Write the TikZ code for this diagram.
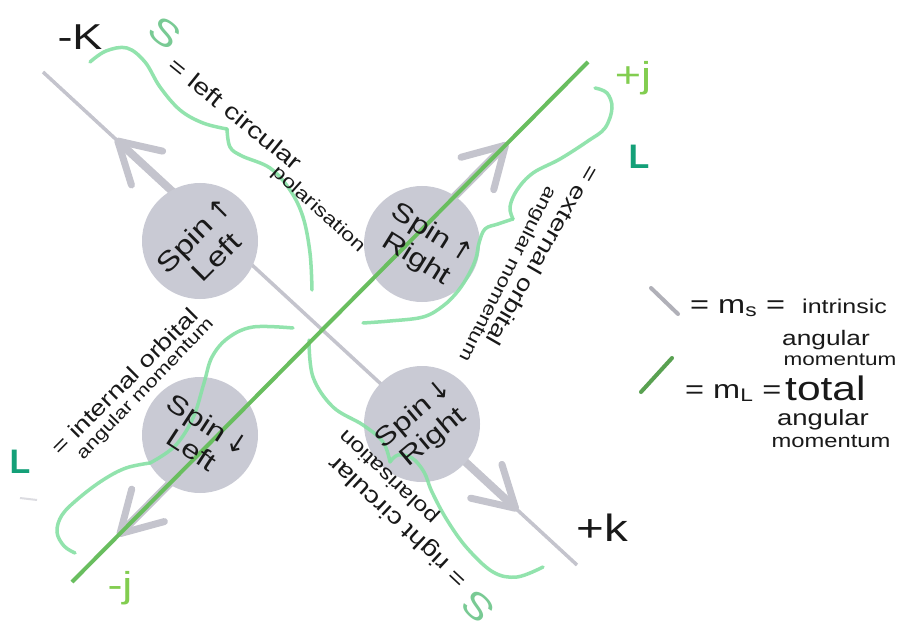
\documentclass[tikz,border=0pt]{standalone}
\usepackage{fontspec}
\setmainfont{Liberation Sans}
\newfontfamily\hand[FakeStretch=1.25]{Liberation Sans}
\newfontfamily\arrfont{DejaVu Sans}
\usetikzlibrary{calc}
\definecolor{ballgray}{RGB}{201,202,212}
\definecolor{axisgray}{RGB}{196,196,205}
\definecolor{jgreen}{RGB}{105,190,95}
\definecolor{bracegreen}{RGB}{135,225,165}
\definecolor{labgreen}{RGB}{130,205,80}
\definecolor{Lteal}{RGB}{20,160,120}
\definecolor{inkblack}{RGB}{25,25,25}
\newcommand\hf[2]{\hand\fontsize{#1}{#2}\selectfont}
\newcommand\upa{{\arrfont ↑}}
\newcommand\dna{{\arrfont ↓}}
\tikzset{
  axisline/.style={draw=axisgray,line width=3.5pt},
  shaft/.style={draw=axisgray,line width=8pt},
  barb/.style={draw=axisgray,line width=7pt,line cap=round,line join=round},
  ball/.style={circle,fill=ballgray,minimum size=116pt,inner sep=0pt},
  bracecurve/.style={draw=bracegreen,line width=3.5pt,line cap=round,opacity=0.9},
  jline/.style={draw=jgreen,line width=4pt},
  handtext/.style={inner sep=0pt,text=inkblack},
  balltext/.style={inner sep=0pt,text=inkblack,align=center},
}
\begin{document}
\begin{tikzpicture}[x=1pt,y=-1pt]
\fill[white] (0,0) rectangle (899,631);
\useasboundingbox (0,0) rectangle (899,631);
% axes
\coordinate (km) at (43,72);
\coordinate (kp) at (577,565);
\coordinate (jm) at (72,582);
\coordinate (jp) at (588,62);
\draw[axisline] (km) -- (kp);
% gray arrows
\coordinate (sA) at ($(km)!0.25!(kp)$);
\coordinate (tA) at ($(km)!0.14!(kp)$);
\coordinate (sB) at ($(km)!0.78!(kp)$);
\coordinate (tB) at ($(km)!0.885!(kp)$);
\coordinate (sC) at ($(jm)!0.73!(jp)$);
\coordinate (tC) at ($(jm)!0.84!(jp)$);
\coordinate (sD) at ($(jm)!0.22!(jp)$);
\coordinate (tD) at ($(jm)!0.093!(jp)$);
\foreach \s/\t in {sA/tA,sB/tB,sC/tC,sD/tD}{
  \draw[shaft] (\s) -- (\t);
  \draw[barb] ($(\t)!46pt!30:(\s)$) -- (\t) -- ($(\t)!46pt!-30:(\s)$);
}
% balls
\node[ball] (SLu) at (200,241) {};
\node[ball] (SRu) at (422,244) {};
\node[ball] (SLd) at (200,435) {};
\node[ball] (SRd) at (422,424) {};
% braces
\draw[bracecurve] plot[smooth,tension=0.6] coordinates {(90,62) (106,51) (127,48) (145,62) (160,87) (180,110) (203,123) (227,129)};
\draw[bracecurve] plot[smooth,tension=0.6] coordinates {(227,129) (230,147) (242,156) (270,168) (290,190) (303,217) (310,253) (312,290)};
\draw[bracecurve] plot[smooth,tension=0.6] coordinates {(309,340) (313,377) (333,407) (363,425) (383,442) (390,462)};
\draw[bracecurve] plot[smooth,tension=0.6] coordinates {(390,462) (398,455) (412,458) (424,472) (432,492) (447,520) (467,548) (493,572) (517,577) (543,567)};
\draw[bracecurve] plot[smooth,tension=0.6] coordinates {(595,88) (607,93) (612,108) (605,128) (588,141) (560,159) (533,173) (517,190) (510,207) (513,219)};
\draw[bracecurve] plot[smooth,tension=0.6] coordinates {(513,219) (498,224) (485,229) (479,243) (476,258) (469,274) (458,291) (443,306) (423,317) (390,321) (363,323)};
\draw[bracecurve] plot[smooth,tension=0.6] coordinates {(293,328) (253,327) (228,338) (212,357) (204,383) (193,418) (175,446) (150,463)};
\draw[bracecurve] plot[smooth,tension=0.6] coordinates {(150,463) (126,468) (103,480) (79,498) (62,515) (57,532) (64,546) (75,553)};
% green axis
\draw[jline] (jm) -- (jp);
% ball texts
\node[balltext,rotate=45,font={\hf{27}{31}}] (tSLu) at (205,246) {Spin\,\upa\\Left};
\node[balltext,rotate=-32,font={\hf{26}{30}}] (tSRu) at (424,247) {Spin\,\upa\\Right};
\node[balltext,rotate=-33,font={\hf{26}{30}}] (tSLd) at (200,437) {Spin\,\dna\\Left};
\node[balltext,rotate=40,font={\hf{26}{30}}] (tSRd) at (424,426) {Spin\,\dna\\Right};
% axis labels
\node[handtext] (lkm) at (80,37) {\hf{36}{40}-K};
\node[handtext] (lkp) at (602,528) {\hf{38}{42}+k};
\node[handtext,text=labgreen] (ljp) at (633,78) {\hf{36}{40}+j};
\node[handtext,text=labgreen] (ljm) at (120,588) {\hf{36}{40}-j};
\node[inner sep=0pt,text=Lteal] (Lup) at (639,157) {\fontsize{34}{38}\selectfont\bfseries L};
\node[inner sep=0pt,text=Lteal] (Llow) at (20,462) {\fontsize{34}{38}\selectfont\bfseries L};
\draw[draw=axisgray!60,line width=2pt] (20,498) -- (37,500);
% green S labels
\node[handtext,text=bracegreen!90!black,rotate=-38] (Stop) at (165,33) {\hf{36}{40}S};
\node[handtext,text=bracegreen!90!black,rotate=136] (Sbot) at (478,607) {\hf{36}{40}S};
% brace texts
\node[handtext,anchor=west,rotate=-39] (top1) at (172,62) {\hf{23}{26}= left circular};
\node[handtext,anchor=west,rotate=-42] (top2) at (274,170) {\hf{18.5}{22}polarisation};
\node[handtext,anchor=west,rotate=137] (bot1) at (465,583) {\hf{23}{26}= right circular};
\node[handtext,anchor=west,rotate=137] (bot2) at (436,520) {\hf{20}{23}polarisation};
\node[handtext,anchor=west,rotate=45] (int1) at (55,451) {\hf{22}{25}= internal orbital};
\node[handtext,anchor=west,rotate=46] (int2) at (80,457) {\hf{17.5}{20}angular momentum};
\node[handtext,anchor=west,rotate=-120] (ext1) at (594,167) {\hf{22}{25}= external orbital};
\node[handtext,anchor=west,rotate=-117] (ext2) at (551,187) {\hf{18}{21}angular momentum};
% legend
\coordinate (lga) at (651,288);
\coordinate (lgb) at (678,314);
\coordinate (lgc) at (641,392);
\coordinate (lgd) at (672,358);
\draw[draw=axisgray!90!black,line width=4pt,line cap=round] (lga) -- (lgb);
\draw[draw=jgreen!85!black,line width=4pt,line cap=round] (lgc) -- (lgd);
\node[handtext,anchor=west] (ms) at (690,308) {\hf{26}{30}= m\textsubscript{s} =};
\node[handtext,anchor=west] (intr) at (802,306) {\hf{20}{24}intrinsic};
\node[handtext] (ang1) at (826,340) {\hf{21}{24}angular};
\node[handtext] (mom1) at (840,360) {\hf{18}{21}momentum};
\node[handtext,anchor=west] (ml) at (685,393) {\hf{26}{30}= m\textsubscript{L} =};
\node[handtext,anchor=west] (tot) at (785,388) {\hf{34}{38}total};
\node[handtext] (ang2) at (823,420) {\hf{22}{25}angular};
\node[handtext] (mom2) at (831,441) {\hf{19}{22}momentum};
\end{tikzpicture}
\end{document}
